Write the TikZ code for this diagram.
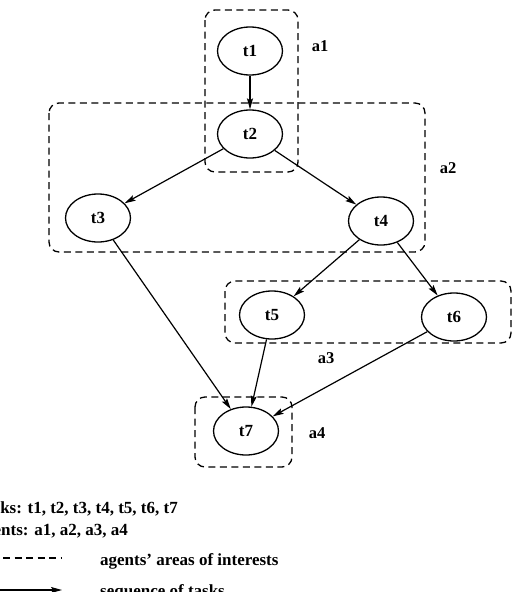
\documentclass[tikz,border=0pt]{standalone}
\usepackage{fontspec}
\setmainfont{Liberation Serif}
\usetikzlibrary{arrows.meta,shapes.geometric}
\begin{document}
\begin{tikzpicture}[x=1pt,y=-1pt,
  task/.style={draw,ellipse,line width=1.3pt,minimum width=65pt,minimum height=48pt,inner sep=0pt,font=\fontsize{17}{19}\selectfont\bfseries},
  area/.style={draw,dashed,dash pattern=on 7pt off 4.5pt,line width=1.3pt,rounded corners=10pt},
  seq/.style={line width=1.2pt,-{Stealth[length=11pt,width=6pt,inset=2pt]}},
  lbl/.style={font=\fontsize{16.5}{19}\selectfont\bfseries},
  leg/.style={font=\fontsize{17}{19}\selectfont\bfseries,inner sep=0pt}]
\useasboundingbox (0,0) rectangle (520,592);
\clip (0,0) rectangle (520,592);
% areas
\draw[area] (205,10) rectangle (298,172);
\draw[area] (49,103) rectangle (425,252);
\draw[area] (225,281) rectangle (511,343);
\draw[area] (195,397) rectangle (292,467);
\node[lbl] (la1) at (320,46) {a1};
\node[lbl] (la2) at (448,168) {a2};
\node[lbl] (la3) at (326,358) {a3};
\node[lbl] (la4) at (317,433) {a4};
% tasks
\node[task] (t1) at (250,51) {t1};
\node[task] (t2) at (250,134) {t2};
\node[task] (t3) at (98,218) {t3};
\node[task] (t4) at (381,221) {t4};
\node[task] (t5) at (272,315) {t5};
\node[task] (t6) at (454,317) {t6};
\node[task] (t7) at (246,431) {t7};
\draw[seq] (t1) -- (t2);
\draw[seq] (t2) -- (t3);
\draw[seq] (t2) -- (t4);
\draw[seq] (t3) -- (t7);
\draw[seq] (t4) -- (t5);
\draw[seq] (t4) -- (t6);
\draw[seq] (t5) -- (t7);
\draw[seq] (t6) -- (t7);
% legend
\node[leg,anchor=base east] (ltasks) at (178,513) {Tasks: t1, t2, t3, t4, t5, t6, t7};
\node[leg,anchor=base east] (lagents) at (128,535) {Agents: a1, a2, a3, a4};
\coordinate (d0) at (-20,558);
\coordinate (d1) at (62,558);
\draw[area] (d0) -- (d1);
\node[leg,anchor=base west] (larea) at (100,565) {agents' areas of interests};
\coordinate (s0) at (-20,590);
\coordinate (s1) at (62,590);
\draw[seq] (s0) -- (s1);
\node[leg,anchor=base west] (lseq) at (100,596) {sequence of tasks};
\end{tikzpicture}
\end{document}
